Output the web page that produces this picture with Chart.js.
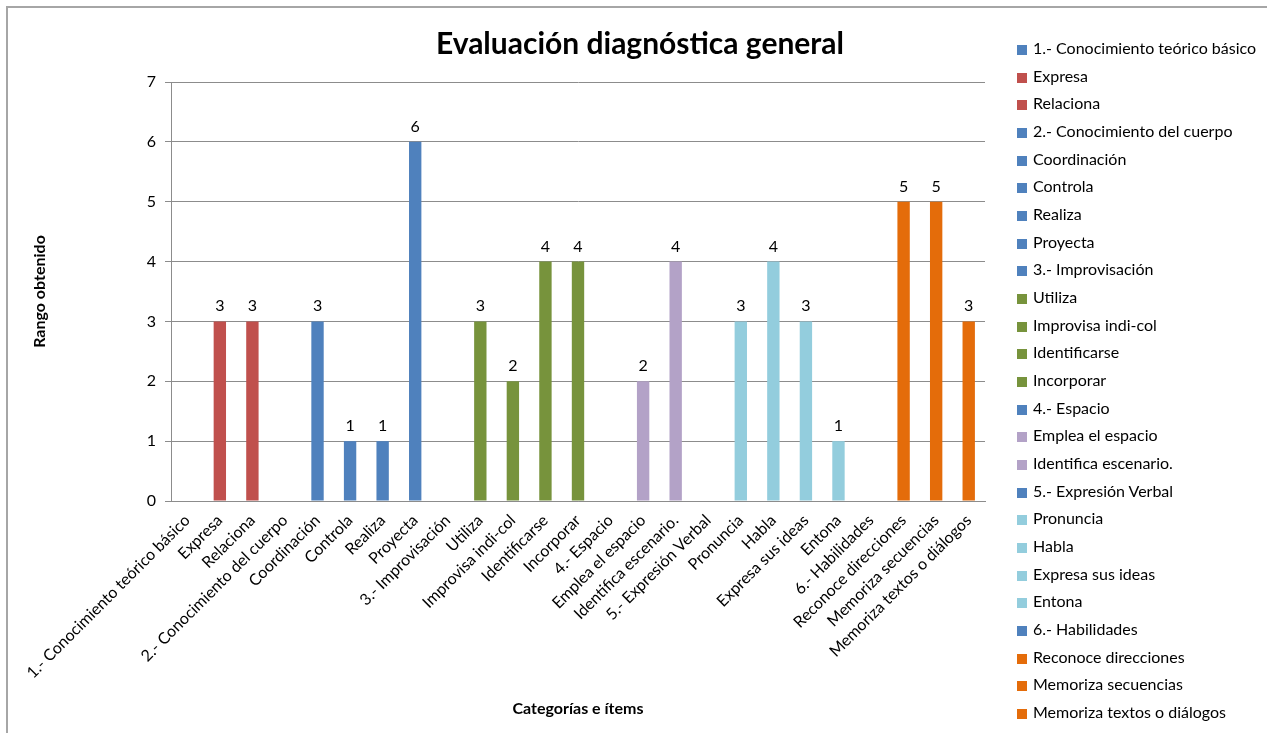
<!DOCTYPE html>
<html lang="es">
<head>
<meta charset="utf-8">
<title>Evaluación diagnóstica general</title>
<script src="https://cdn.jsdelivr.net/npm/chart.js@4.4.1/dist/chart.umd.min.js"></script>
<style>
    html, body { margin: 0; padding: 0; background: #fff; }
    #wrap { position: relative; width: 1267px; height: 733px; overflow: hidden; }
    #marco { position: absolute; left: 6px; top: 6px; width: 1300px; height: 800px;
             border-left: 2px solid #a6a6a6; border-top: 2px solid #a6a6a6; }
    #grafico { position: absolute; left: 0; top: 0; }
    #titulo { position: absolute; left: 0; top: 24px; width: 1280px; text-align: center;
              font-family: Lato, sans-serif; font-weight: bold; font-size: 30px; line-height: 36px; color: #000; }
    #leyenda { position: absolute; left: 1017px; top: 0; font-family: Lato, sans-serif;
               font-size: 16px; color: #000; }
    .item { position: absolute; left: 0; white-space: nowrap; height: 18px; line-height: 18px; }
    .item i { display: inline-block; width: 10px; height: 10px; margin-right: 6px; vertical-align: -1px; }
</style>
</head>
<body>
<div id="wrap">
    <div id="marco"></div>
    <canvas id="grafico" width="1267" height="733"></canvas>
    <div id="titulo">Evaluación diagnóstica general</div>
    <div id="leyenda"></div>
</div>
<script>
// Datos del gráfico
const categorias = [
    '1.- Conocimiento teórico básico', 'Expresa', 'Relaciona',
    '2.- Conocimiento del cuerpo', 'Coordinación', 'Controla', 'Realiza', 'Proyecta',
    '3.- Improvisación', 'Utiliza', 'Improvisa indi-col', 'Identificarse', 'Incorporar',
    '4.- Espacio', 'Emplea el espacio', 'Identifica escenario.',
    '5.- Expresión Verbal', 'Pronuncia', 'Habla', 'Expresa sus ideas', 'Entona',
    '6.- Habilidades', 'Reconoce direcciones', 'Memoriza secuencias', 'Memoriza textos o diálogos'
];
const valores = [0, 3, 3, 0, 3, 1, 1, 6, 0, 3, 2, 4, 4, 0, 2, 4, 0, 3, 4, 3, 1, 0, 5, 5, 3];
const ticksY = [0, 1, 2, 3, 4, 5, 6, 7];

// Colores por ítem
const AZUL = '#4f81bd', ROJO = '#c0504d', VERDE = '#77933c',
      LILA = '#b3a2c7', CELESTE = '#93cddd', NARANJA = '#e46c0a';
const colores = [
    AZUL, ROJO, ROJO,
    AZUL, AZUL, AZUL, AZUL, AZUL,
    AZUL, VERDE, VERDE, VERDE, VERDE,
    AZUL, LILA, LILA,
    AZUL, CELESTE, CELESTE, CELESTE, CELESTE,
    AZUL, NARANJA, NARANJA, NARANJA
];

const FUENTE = 'Lato, sans-serif';

// Etiquetas de valor encima de cada barra (los ceros no se muestran)
const etiquetasValor = {
    id: 'etiquetasValor',
    afterDatasetsDraw(chart) {
        const ctx = chart.ctx;
        const meta = chart.getDatasetMeta(0);
        ctx.save();
        ctx.font = '16px ' + FUENTE;
        ctx.fillStyle = '#000';
        ctx.textAlign = 'center';
        ctx.textBaseline = 'alphabetic';
        meta.data.forEach((barra, i) => {
            const v = valores[i];
            if (!v) return;
            ctx.fillText(String(v), barra.x, barra.y - 10);
        });
        ctx.restore();
    }
};

const ctx = document.getElementById('grafico').getContext('2d');
const grafico = new Chart(ctx, {
    type: 'bar',
    data: {
        labels: categorias,
        datasets: [{
            label: 'Rango obtenido',
            data: valores,
            backgroundColor: colores,
            borderWidth: 0,
            categoryPercentage: 1,
            barPercentage: 0.38
        }]
    },
    options: {
        responsive: false,
        animation: false,
        devicePixelRatio: 1,
        layout: { padding: { left: 8, right: 282, top: 82, bottom: 8 } },
        plugins: {
            legend: { display: false },
            tooltip: { enabled: false },
            title: { display: false }
        },
        scales: {
            x: {
                grid: { display: false },
                border: { display: true, color: '#8c8c8c', width: 1 },
                ticks: {
                    autoSkip: false,
                    maxRotation: 45,
                    minRotation: 45,
                    padding: 2,
                    color: '#000',
                    font: { family: FUENTE, size: 16 }
                },
                title: {
                    display: true,
                    text: 'Categorías e ítems',
                    color: '#000',
                    font: { family: FUENTE, size: 16, weight: 'bold' },
                    padding: { top: 0, bottom: 7 }
                },
                afterFit(scale) { scale.height = 733 - 8 - 501; }
            },
            y: {
                min: 0,
                max: 7,
                afterBuildTicks(scale) { scale.ticks = ticksY.map(v => ({ value: v })); },
                grid: { color: '#8c8c8c', tickLength: 6, tickColor: '#8c8c8c' },
                border: { display: true, color: '#8c8c8c' },
                ticks: {
                    padding: 9,
                    color: '#000',
                    font: { family: FUENTE, size: 16 }
                },
                title: {
                    display: true,
                    text: 'Rango obtenido',
                    color: '#000',
                    font: { family: FUENTE, size: 16, weight: 'bold' },
                    padding: { top: 22, bottom: 0 }
                },
                afterFit(scale) { scale.width = 171 - 8; }
            }
        }
    },
    plugins: [etiquetasValor]
});

// Leyenda a la derecha, un elemento por ítem
const leyenda = document.getElementById('leyenda');
leyenda.innerHTML = categorias.map((nombre, i) => `
    <div class="item" style="top:${39 + i * 27.67}px"><i style="background:${colores[i]}"></i>${nombre}</div>
`).join('');
</script>
</body>
</html>
